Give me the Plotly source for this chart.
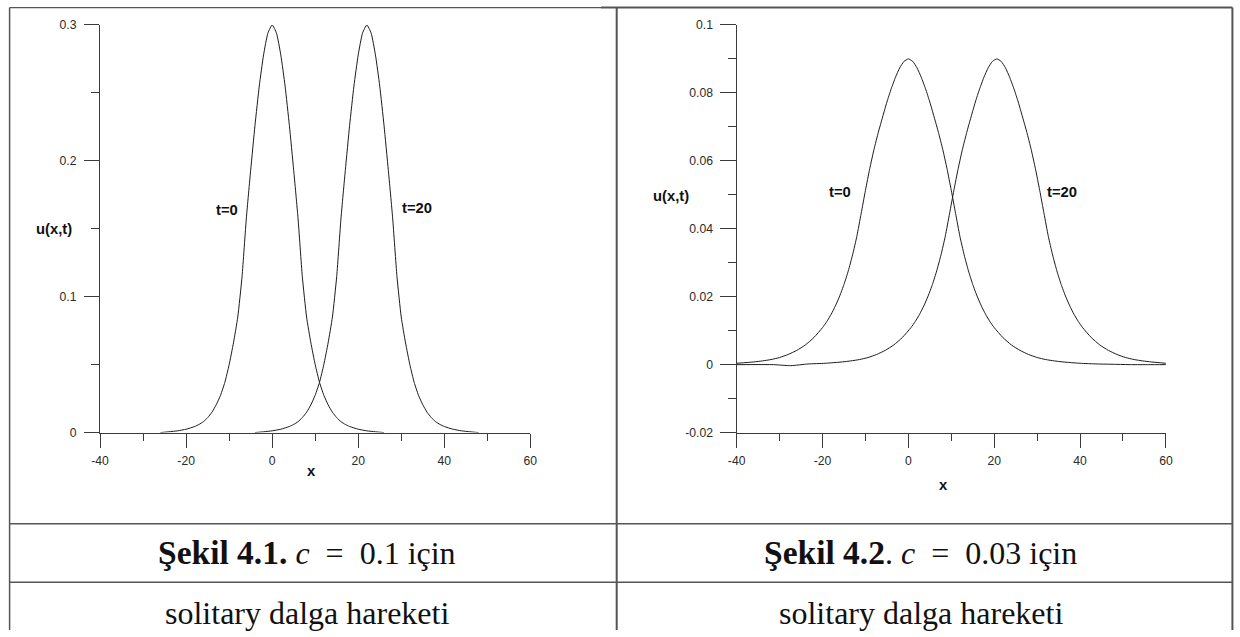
import plotly.graph_objects as go

W, H = 1240, 637
# the page is captured with an 8 px body margin and a slight rescale; positions below are
# given in final picture pixels and mapped into figure paper coordinates
PAD = 8
SX, SY = 1240 / 1256, 637 / 653

# ---- Panel 1: c = 0.1 (wave amplitude 0.3) ----
x1_t0 = [-26, -24, -22, -20, -18, -17, -16, -15, -14, -13, -12, -11, -10, -9, -8, -7, -6, -5, -4, -3, -2, -1, 0,
         1, 2, 3, 4, 5, 6, 7, 8, 9, 10, 11, 12, 13, 14, 15, 16, 17, 18, 20, 22, 24, 26]
u1_t0 = [0.0, 0.0006, 0.0013, 0.0025, 0.0045, 0.006, 0.008, 0.011, 0.015, 0.0205, 0.0275, 0.037, 0.050, 0.066,
         0.085, 0.115, 0.158, 0.193, 0.226, 0.255, 0.278, 0.294, 0.300,
         0.294, 0.278, 0.255, 0.226, 0.193, 0.158, 0.115, 0.085, 0.066, 0.050, 0.037, 0.0275, 0.0205, 0.015,
         0.011, 0.008, 0.006, 0.0045, 0.0025, 0.0013, 0.0006, 0.0]
x1_t20 = [-4, -2, 0, 2, 4, 5, 6, 7, 8, 9, 10, 11, 12, 13, 14, 15, 16, 17, 18, 19, 20, 21, 22,
          23, 24, 25, 26, 27, 28, 29, 30, 31, 32, 33, 34, 35, 36, 37, 38, 39, 40, 42, 44, 46, 48]
u1_t20 = [0.0, 0.0006, 0.0013, 0.0025, 0.0045, 0.006, 0.008, 0.011, 0.015, 0.0205, 0.0275, 0.037, 0.050, 0.066,
          0.085, 0.115, 0.158, 0.193, 0.226, 0.255, 0.278, 0.294, 0.300,
          0.294, 0.278, 0.255, 0.226, 0.193, 0.158, 0.115, 0.085, 0.066, 0.050, 0.037, 0.0275, 0.0205, 0.015,
          0.011, 0.008, 0.006, 0.0045, 0.0025, 0.0013, 0.0006, 0.0]

# ---- Panel 2: c = 0.03 (wave amplitude 0.09) ----
x2_t0 = [-40, -36, -34, -32, -30, -28, -26, -24, -22,
         -20, -19, -18, -17, -16, -15, -14, -13, -12, -11, -10, -9, -8, -7, -6, -5, -4, -3, -2, -1, 0,
         1, 2, 3, 4, 5, 6, 7, 8, 9, 10, 11, 12, 13, 14, 15, 16, 17, 18, 19, 20,
         22, 24, 26, 28, 30, 32, 34, 36, 40, 44, 48, 52, 56, 60]
u2_t0 = [0.0004, 0.0008, 0.0011, 0.0015, 0.0021, 0.0030, 0.0042, 0.0058, 0.0080,
         0.0109, 0.0127, 0.0148, 0.0173, 0.0202, 0.0236, 0.0276, 0.0323, 0.0378, 0.0445, 0.0513, 0.0577,
         0.0634, 0.0684, 0.0729, 0.0773, 0.0812, 0.0846, 0.0874, 0.0893, 0.0900,
         0.0893, 0.0874, 0.0846, 0.0812, 0.0773, 0.0729, 0.0684, 0.0634, 0.0577, 0.0513, 0.0445, 0.0378,
         0.0323, 0.0276, 0.0236, 0.0202, 0.0173, 0.0148, 0.0127, 0.0109,
         0.0080, 0.0058, 0.0042, 0.0030, 0.0021, 0.0015, 0.0011, 0.0008, 0.0004, 0.0002, 0.0001, 0.0, 0.0, 0.0]
x2_t20 = [-40, -31.4, -27.4, -23.4, -19.4, -15.4, -13.4, -11.4, -9.4, -7.4, -5.4, -3.4, -1.4,
          0.6, 1.6, 2.6, 3.6, 4.6, 5.6, 6.6, 7.6, 8.6, 9.6, 10.6, 11.6, 12.6, 13.6, 14.6, 15.6, 16.6, 17.6,
          18.6, 19.6, 20.6,
          21.6, 22.6, 23.6, 24.6, 25.6, 26.6, 27.6, 28.6, 29.6, 30.6, 31.6, 32.6, 33.6, 34.6, 35.6, 36.6,
          37.6, 38.6, 39.6, 40.6,
          42.6, 44.6, 46.6, 48.6, 50.6, 52.6, 54.6, 56.6, 60]
u2_t20 = [0.0, 0.0, -0.0003, 0.0002, 0.0004, 0.0008, 0.0011, 0.0015, 0.0021, 0.0030, 0.0042, 0.0058, 0.0080,
          0.0109, 0.0127, 0.0148, 0.0173, 0.0202, 0.0236, 0.0276, 0.0323, 0.0378, 0.0445, 0.0513, 0.0577,
          0.0634, 0.0684, 0.0729, 0.0773, 0.0812, 0.0846, 0.0874, 0.0893, 0.0900,
          0.0893, 0.0874, 0.0846, 0.0812, 0.0773, 0.0729, 0.0684, 0.0634, 0.0577, 0.0513, 0.0445, 0.0378,
          0.0323, 0.0276, 0.0236, 0.0202, 0.0173, 0.0148, 0.0127, 0.0109,
          0.0080, 0.0058, 0.0042, 0.0030, 0.0021, 0.0015, 0.0011, 0.0008, 0.0004]

x_ticks = [-40, -20, 0, 20, 40, 60]
x_labels = ["-40", "-20", "0", "20", "40", "60"]
y1_ticks = [0, 0.1, 0.2, 0.3]
y1_labels = ["0", "0.1", "0.2", "0.3"]
y2_ticks = [-0.02, 0, 0.02, 0.04, 0.06, 0.08, 0.1]
y2_labels = ["-0.02", "0", "0.02", "0.04", "0.06", "0.08", "0.1"]

EN = "\u2002"
captions = [f"<span style='font-size:33.5px'><b>Şekil 4.1.</b></span> <i>c</i>{EN}={EN}0.1 için",
            f"<span style='font-size:33.5px'><b>Şekil 4.2</b></span>. <i>c</i>{EN}={EN}0.03 için"]
subcaption = "solitary dalga hareketi"


def fx(x):
    """picture pixel column -> figure pixel column"""
    return x / SX - PAD


def fy(y):
    """picture pixel row -> figure pixel row"""
    return y / SY - PAD


def px(x):
    return min(max(fx(x), 0.6), W - 0.6) / W


def py(y):
    return 1 - min(max(fy(y), 0.6), H) / H


AX = "#3a3a3a"
LINE = "#1c1c1c"
TICKFONT = dict(family="Liberation Sans, Arial, sans-serif", size=12.2, color="#2a2a2a")

fig = go.Figure()
for xs, us in [(x1_t0, u1_t0), (x1_t20, u1_t20)]:
    fig.add_trace(go.Scatter(x=xs, y=us, mode="lines", xaxis="x", yaxis="y",
                             line=dict(color=LINE, width=1, shape="spline", smoothing=0.5),
                             showlegend=False, hoverinfo="skip"))
for xs, us in [(x2_t0, u2_t0), (x2_t20, u2_t20)]:
    fig.add_trace(go.Scatter(x=xs, y=us, mode="lines", xaxis="x2", yaxis="y2",
                             line=dict(color=LINE, width=1, shape="spline", smoothing=0.5),
                             showlegend=False, hoverinfo="skip"))

xcommon = dict(range=[-40, 60], tickvals=x_ticks, ticktext=x_labels, ticks="outside", ticklen=14.3,
               tickwidth=1, tickcolor=AX, showline=True, linecolor=AX, linewidth=1, showgrid=False,
               zeroline=False, tickfont=TICKFONT, ticklabelstandoff=2,
               minor=dict(dtick=10, tick0=0, ticks="outside", ticklen=7.2, tickcolor=AX, showgrid=False))
ycommon = dict(ticks="outside", ticklen=15.2, tickwidth=1, tickcolor=AX, showline=True,
               linecolor=AX, linewidth=1, showgrid=False, zeroline=False, tickfont=TICKFONT,
               ticklabelstandoff=5)

fig.update_layout(
    width=W, height=H, margin=dict(l=0, r=0, t=0, b=0), autosize=False,
    paper_bgcolor="white", plot_bgcolor="white",
    xaxis=dict(domain=[px(99), px(529.3)], anchor="y", **xcommon),
    yaxis=dict(domain=[py(432.3), py(25.7)], anchor="x", range=[0, 0.3],
               tickvals=y1_ticks, ticktext=y1_labels,
               minor=dict(dtick=0.05, tick0=0, ticks="outside", ticklen=8.1, tickcolor=AX, showgrid=False),
               **ycommon),
    xaxis2=dict(domain=[px(735.7), px(1165)], anchor="y2", **xcommon),
    yaxis2=dict(domain=[py(432.3), py(25.7)], anchor="x2", range=[-0.02, 0.1],
                tickvals=y2_ticks, ticktext=y2_labels,
                minor=dict(dtick=0.01, tick0=0, ticks="outside", ticklen=8.1, tickcolor=AX, showgrid=False),
                **ycommon),
)

LBL = dict(family="Liberation Sans, Arial, sans-serif", size=14.8, color="#111")
texts = [
    ("u(x,t)", 53, 229.3), ("t=0", 226, 210.7), ("t=20", 416, 208.3), ("x", 310, 470.7),
    ("u(x,t)", 670, 196.7), ("t=0", 839, 192.7), ("t=20", 1061, 192.7), ("x", 943, 484.3),
]
for t, x, y in texts:
    fig.add_annotation(text=f"<b>{t}</b>", x=px(x), y=py(y), xref="paper", yref="paper",
                       showarrow=False, xanchor="center", yanchor="middle", font=LBL)

# table frame around the two figures
GRID = "#555555"
frame = [
    (5.7, 2.3, 600, 2.3, 1.2), (600, 3.3, 1235.7, 3.3, 2),
    (5.7, 2.3, 5.7, 637, 1.5), (615.7, 2.3, 615.7, 637, 2), (1235.7, 3.3, 1235.7, 637, 2),
    (5.7, 523.3, 1235.7, 523.3, 1.5), (5.7, 581.5, 1235.7, 581.5, 1.5),
]
for x0, y0, x1, y1, w in frame:
    fig.add_shape(type="line", xref="paper", yref="paper", x0=px(x0), y0=py(y0), x1=px(x1), y1=py(y1),
                  line=dict(color=GRID, width=w))

SERIF = dict(family="Liberation Serif, Times New Roman, serif", size=32, color="#111")
for cap, cx in zip(captions, [306, 920]):
    fig.add_annotation(text=cap, x=px(cx), y=py(552), xref="paper", yref="paper", showarrow=False,
                       xanchor="center", yanchor="middle", font=SERIF)
    fig.add_annotation(text=subcaption, x=px(cx), y=py(612), xref="paper", yref="paper", showarrow=False,
                       xanchor="center", yanchor="middle", font=SERIF)

fig.write_html("out.html")
